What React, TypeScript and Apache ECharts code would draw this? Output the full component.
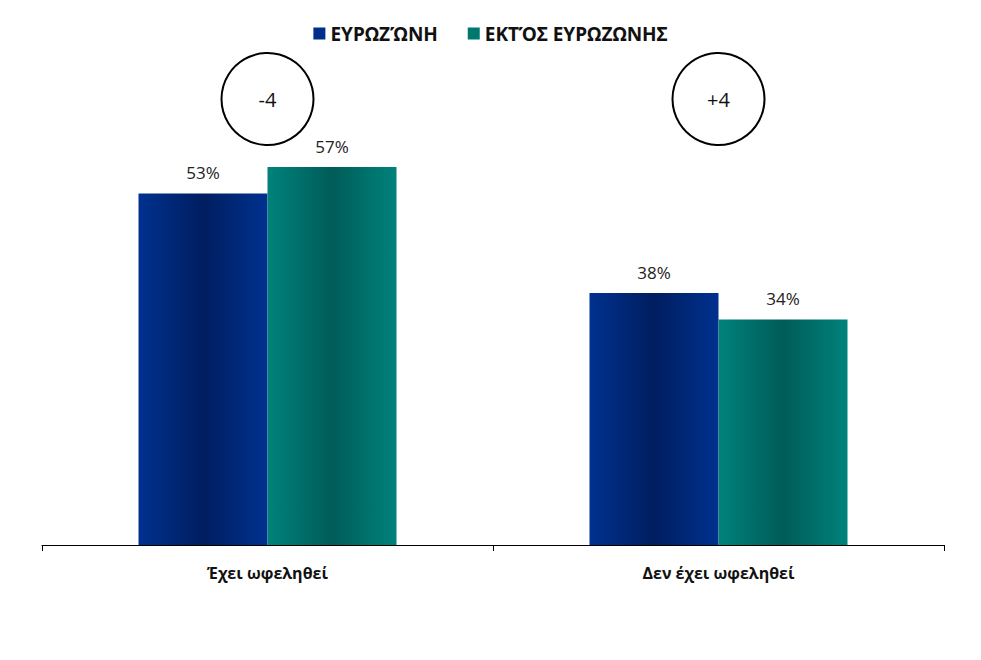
import React, { useEffect, useRef } from "react";
import * as echarts from "echarts";

const categories = ["Έχει ωφεληθεί", "Δεν έχει ωφεληθεί"];
const seriesNames = ["ΕΥΡΩΖΏΝΗ", "ΕΚΤΌΣ ΕΥΡΩΖΩΝΗΣ"];
const euroZone = [53, 38];
const outsideEuroZone = [57, 34];
const differences = ["-4", "+4"];

export default function App() {
  const ref = useRef<HTMLDivElement>(null);
  useEffect(() => {
    if (!ref.current) return;
    const chart = echarts.init(ref.current, null, { renderer: "svg" });
    const grad = (edge: string, mid: string) =>
      new echarts.graphic.LinearGradient(0, 0, 1, 0, [
        { offset: 0, color: edge },
        { offset: 0.5, color: mid },
        { offset: 1, color: edge },
      ]);
    const labelStyle = {
      show: true,
      position: "top" as const,
      distance: 12,
      formatter: "{c}%",
      fontFamily: "Open Sans",
      fontSize: 17,
      color: "#222",
    };
    chart.setOption({
      animation: false,
      backgroundColor: "#fff",
      legend: {
        top: 19,
        left: "center",
        itemWidth: 12,
        itemHeight: 12,
        itemGap: 30,
        icon: "rect",
        textStyle: { fontFamily: "Noto Sans", fontWeight: "bold", fontSize: 19, color: "#111" },
        data: [
          { name: seriesNames[0], itemStyle: { color: "#002E8A" } },
          { name: seriesNames[1], itemStyle: { color: "#00786F" } },
        ],
      },
      grid: { left: 42, right: 37, top: 147, bottom: 115, containLabel: false },
      xAxis: {
        type: "category",
        data: categories,
        axisLine: { lineStyle: { color: "#000", width: 1 } },
        axisTick: { show: true, length: 6, lineStyle: { color: "#000" } },
        axisLabel: {
          fontFamily: "Open Sans",
          fontWeight: "bold",
          fontSize: 16,
          color: "#111",
          margin: 20,
        },
      },
      yAxis: { type: "value", min: 0, max: 60, show: false },
      series: [
        {
          name: seriesNames[0],
          type: "bar",
          data: euroZone,
          barWidth: 129,
          barGap: "0%",
          itemStyle: { color: grad("#00318F", "#001E60") },
          label: labelStyle,
        },
        {
          name: seriesNames[1],
          type: "bar",
          data: outsideEuroZone,
          barWidth: 129,
          barGap: "0%",
          itemStyle: { color: grad("#00827B", "#005C58") },
          label: labelStyle,
        },
      ],
    });
    const graphics: any[] = [];
    differences.forEach((d, i) => {
      const p = chart.convertToPixel({ xAxisIndex: 0 }, i) as number;
      const cy = 99;
      graphics.push({
        type: "circle",
        shape: { cx: p, cy, r: 46 },
        style: { fill: "#fff", stroke: "#000", lineWidth: 2 },
      });
      graphics.push({
        type: "text",
        x: p,
        y: cy,
        style: {
          text: d,
          fontFamily: "Open Sans",
          fontSize: 20,
          fill: "#111",
          align: "center",
          verticalAlign: "middle",
        },
      });
    });
    chart.setOption({ graphic: graphics });
    return () => chart.dispose();
  }, []);
  return <div ref={ref} style={{ width: 981, height: 660, margin: -8 }} />;
}
